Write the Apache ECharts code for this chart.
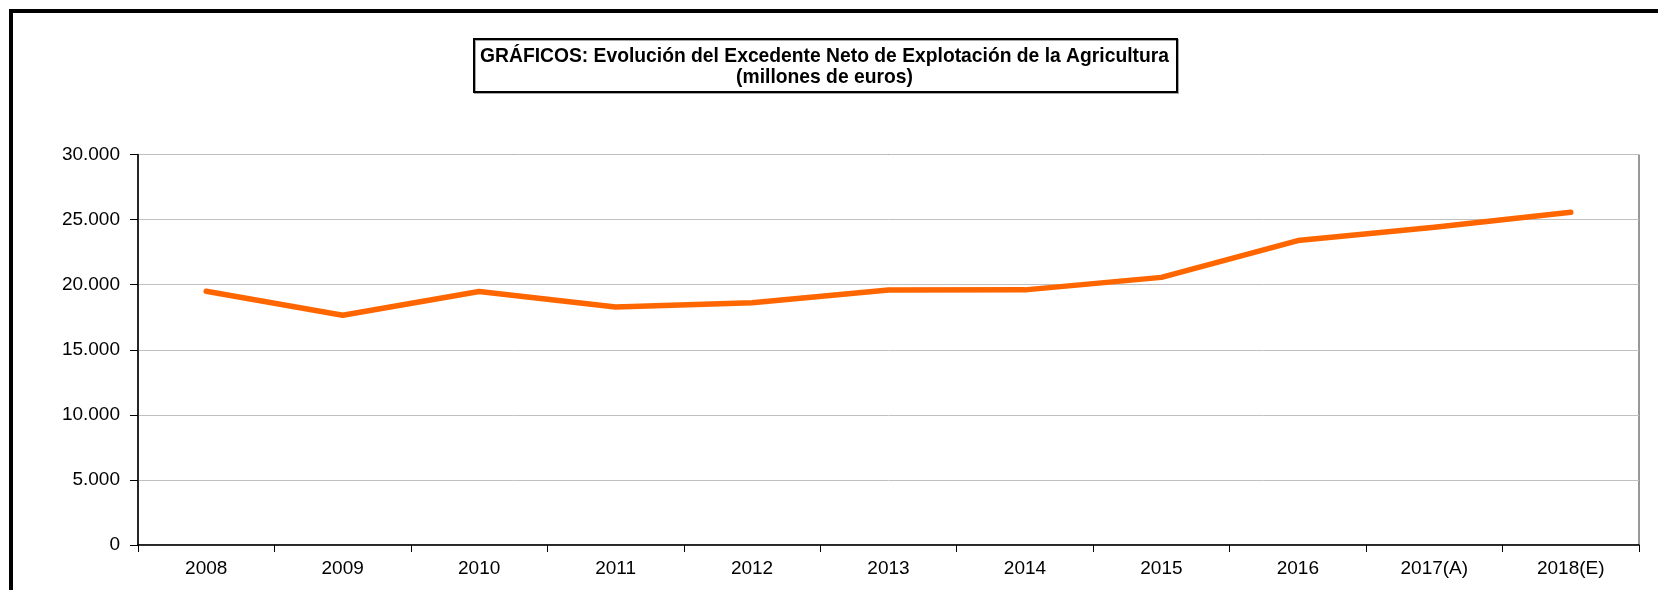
<!DOCTYPE html>
<html>
<head>
<meta charset="utf-8">
<script src="https://cdn.jsdelivr.net/npm/echarts@6/dist/echarts.min.js"></script>
<style>
  html, body { margin: 0; padding: 0; background: #fff; overflow: hidden; }
  #frame { position: absolute; left: 9px; top: 9px; width: 2000px; height: 1000px;
           border-left: 4px solid #000; border-top: 4px solid #000; box-sizing: border-box; }
  #chart { position: absolute; left: 0; top: 0; width: 1658px; height: 590px; }
</style>
</head>
<body>
<div id="frame"></div>
<div id="chart"></div>
<script>
const categories = ['2008', '2009', '2010', '2011', '2012', '2013', '2014', '2015', '2016', '2017(A)', '2018(E)'];
const excedenteNeto = [19500, 17650, 19480, 18280, 18610, 19590, 19600, 20560, 23390, 24410, 25560];
const titleLines = ['GRÁFICOS: Evolución del Excedente Neto de Explotación de la Agricultura', '(millones de euros)'];

const chart = echarts.init(document.getElementById('chart'), null, { renderer: 'canvas' });
const font = '"Liberation Sans", Arial, sans-serif';
const titleStyle = { fontFamily: font, fontSize: 19.3, fontWeight: 'bold', fill: '#000', textAlign: 'center', textVerticalAlign: 'middle' };
chart.setOption({
  backgroundColor: 'transparent',
  animation: false,
  graphic: [
    {
      type: 'rect', left: 473, top: 38, z: 10,
      shape: { width: 703, height: 53 },
      style: { fill: '#fff', stroke: '#000', lineWidth: 2, shadowColor: 'rgba(0,0,0,0.35)', shadowOffsetX: 1, shadowOffsetY: 1 }
    },
    { type: 'text', x: 824.5, y: 56.5, z: 11, style: Object.assign({ text: titleLines[0] }, titleStyle) },
    { type: 'text', x: 824.5, y: 78, z: 11, style: Object.assign({ text: titleLines[1] }, titleStyle) }
  ],
  grid: {
    left: 138, right: 19, top: 154.5, bottom: 45,
    show: true, borderColor: '#333', borderWidth: 1
  },
  xAxis: {
    type: 'category',
    data: categories,
    boundaryGap: true,
    axisLine: { lineStyle: { color: '#000', width: 1.5 } },
    axisTick: { show: true, length: 7, lineStyle: { color: '#000' } },
    axisLabel: { color: '#000', fontFamily: font, fontSize: 19, margin: 14 },
    splitLine: { show: false }
  },
  yAxis: {
    type: 'value',
    min: 0, max: 30000, interval: 5000,
    axisLine: { show: true, lineStyle: { color: '#000', width: 1.5 } },
    axisTick: { show: true, length: 8, lineStyle: { color: '#000' } },
    axisLabel: {
      color: '#000', fontFamily: font, fontSize: 19, margin: 18,
      formatter: v => v === 0 ? '0' : v.toString().replace(/\B(?=(\d{3})+(?!\d))/g, '.')
    },
    splitLine: { show: true, lineStyle: { color: '#c0c0c0', width: 1 } }
  },
  series: [{
    type: 'line',
    data: excedenteNeto,
    showSymbol: false,
    symbol: 'none',
    lineStyle: { color: '#FF6600', width: 5.5, cap: 'round', join: 'round' },
    itemStyle: { color: '#FF6600' }
  }]
});
</script>
</body>
</html>
